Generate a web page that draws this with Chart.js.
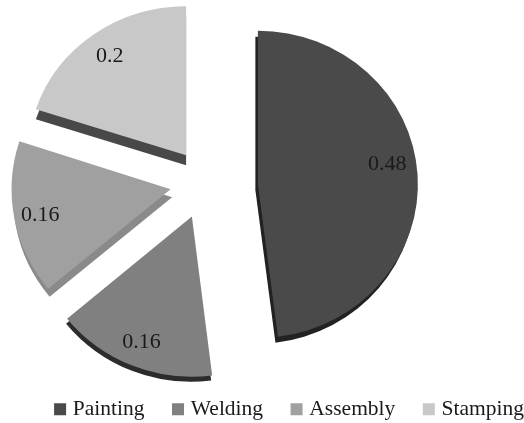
<!DOCTYPE html>
<html><head><meta charset="utf-8">
<style>html,body{margin:0;padding:0;background:#fff}#w{width:524px;height:423px}</style>
<script src="https://cdn.jsdelivr.net/npm/chart.js@4"></script></head>
<body><div id="w"><canvas id="c" width="524" height="423"></canvas></div>
<script>
const categories = ['Painting','Welding','Assembly','Stamping'];
const values = [0.48,0.16,0.16,0.2];
const colors = ['#4a4a4a','#808080','#a0a0a0','#c8c8c8'];
const wallColors = ['#222222','#2c2c2c','#8a8a8a','#484848'];
const explode = [50,37,34,33];
const nudgeX = [2.5,0,-1.5,0];
const nudgeY = [5.5,0,1,0];
const radii = [160,162,159,158];
const squash = [0.96,0.99,0.98,0.943];
const wallX = [-2.5,-1,1.5,0];
const wallY = [6,5,8,10];
const labelRadius = [131,137,133,130];
const labelTurn = [-0.1,0,-0.012,0];
const FONT = '"Liberation Serif", serif';

const pie3d = {
  id:'pie3d',
  afterLayout(chart){
    const a = chart.chartArea;
    a.left=45.5; a.right=365.5; a.top=22; a.bottom=342;
    a.width=320; a.height=320;
  },
  beforeDatasetDraw(chart,args){
    const ctx = chart.ctx, arcs = args.meta.data;
    arcs.forEach((arc,i)=>{ arc.outerRadius = radii[i]; });
    const tip = (arc,i)=>{
      const mid=(arc.startAngle+arc.endAngle)/2;
      return {mid,tx:arc.x+Math.cos(mid)*explode[i]+nudgeX[i],ty:arc.y+Math.sin(mid)*explode[i]+nudgeY[i]};
    };
    const place = (arc,i)=>{
      const {tx,ty}=tip(arc,i);
      ctx.translate(tx,ty); ctx.scale(1,squash[i]); ctx.translate(-arc.x,-arc.y);
    };
    arcs.forEach((arc,i)=>{
      ctx.save();
      ctx.translate(wallX[i],wallY[i]);
      place(arc,i);
      const o=arc.options;
      arc.options=Object.assign({},o,{backgroundColor:wallColors[i]});
      arc.draw(ctx);
      arc.options=o;
      ctx.restore();
    });
    arcs.forEach((arc,i)=>{
      ctx.save(); place(arc,i); arc.draw(ctx); ctx.restore();
    });
    ctx.save();
    ctx.font='22px '+FONT; ctx.fillStyle='#1a1a1a';
    ctx.textAlign='center'; ctx.textBaseline='middle';
    arcs.forEach((arc,i)=>{
      const {mid,tx,ty}=tip(arc,i);
      const ang=mid+labelTurn[i];
      ctx.fillText(String(values[i]),tx+Math.cos(ang)*labelRadius[i],ty+Math.sin(ang)*labelRadius[i]*squash[i]);
    });
    ctx.restore();
    return false;
  }
};

new Chart(document.getElementById('c'),{
  type:'pie',
  data:{labels:categories,datasets:[{data:values,backgroundColor:colors,borderWidth:0,radius:160}]},
  options:{
    responsive:false,animation:false,
    layout:{padding:{left:0,right:-31.5,top:0,bottom:-7}},
    plugins:{
      tooltip:{enabled:false},
      legend:{position:'bottom',align:'end',
        labels:{boxWidth:4,boxHeight:4,padding:31.5,color:'#1a1a1a',font:{family:FONT,size:21.5},
          generateLabels(chart){
            return Chart.overrides.pie.plugins.legend.labels.generateLabels(chart).map((it,i)=>
              Object.assign(it,{lineWidth:8,strokeStyle:colors[i],fillStyle:colors[i]}));
          }}}
    }
  },
  plugins:[pie3d]
});
</script></body></html>
